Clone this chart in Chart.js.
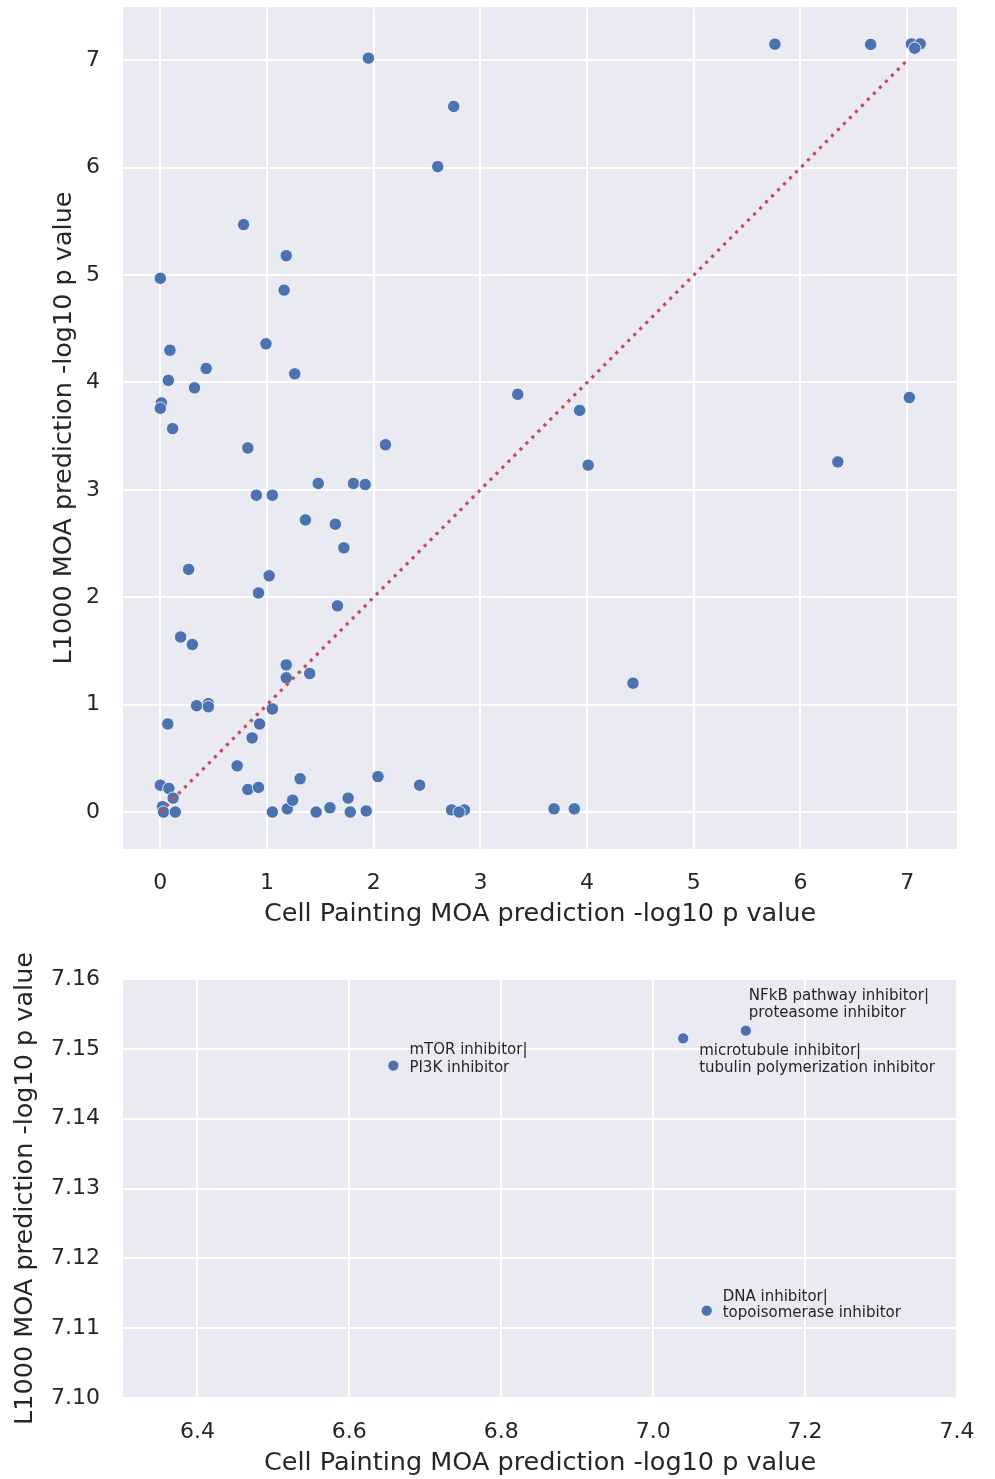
<!DOCTYPE html>
<html>
<head>
<meta charset="utf-8">
<script src="https://cdn.jsdelivr.net/npm/chart.js@4.4.8/dist/chart.umd.min.js"></script>
<style>
  html, body { margin: 0; padding: 0; background: #fff; }
  canvas { position: absolute; left: 0; }
</style>
</head>
<body>
<canvas id="allMoa" width="995" height="930" style="top:0;width:995px;height:930px"></canvas>
<canvas id="zoomMoa" width="995" height="549" style="top:930px;width:995px;height:549px"></canvas>
<script>
// top panel: one point per MOA, Cell Painting vs L1000 -log10 p value
const cellPaintingP = [5.76, 6.658, 7.0395, 7.122, 7.0705, 1.95, 2.75, 2.60, 0.78, 1.18,
  0.00, 1.16, 0.99, 0.09, 0.43, 1.26, 0.075, 0.32, 0.01, 0.00,
  0.115, 3.35, 3.93, 7.02, 0.82, 2.11, 4.01, 6.35, 1.48, 1.81,
  1.92, 0.90, 1.05, 1.36, 1.64, 1.72, 0.265, 1.02, 0.92, 1.66,
  0.19, 0.30, 1.18, 1.40, 1.18, 4.43, 0.34, 0.45, 0.45, 1.05,
  0.07, 0.93, 0.86, 0.72, 0.82, 0.92, 0.00, 0.08, 0.12, 0.02,
  0.03, 0.14, 1.05, 1.19, 1.24, 1.31, 1.46, 1.59, 1.76, 1.78,
  1.93, 2.04, 2.43, 2.73, 2.85, 2.80, 3.69, 3.88];
const l1000P = [7.15, 7.1476, 7.1515, 7.1526, 7.1125, 7.02, 6.57, 6.01, 5.47, 5.18,
  4.97, 4.86, 4.36, 4.30, 4.13, 4.08, 4.02, 3.95, 3.81, 3.76,
  3.57, 3.89, 3.74, 3.86, 3.39, 3.42, 3.23, 3.26, 3.06, 3.06,
  3.05, 2.95, 2.95, 2.72, 2.68, 2.46, 2.26, 2.20, 2.04, 1.92,
  1.63, 1.56, 1.37, 1.29, 1.25, 1.20, 0.99, 1.01, 0.98, 0.96,
  0.82, 0.82, 0.69, 0.43, 0.21, 0.23, 0.25, 0.22, 0.13, 0.05,
  0.00, 0.00, 0.00, 0.03, 0.11, 0.31, 0.00, 0.04, 0.13, 0.00,
  0.01, 0.33, 0.25, 0.02, 0.02, 0.00, 0.03, 0.03];
// y = x reference line
const diagX = [0, 7];
const diagY = [0, 7];
const allTicks = [0, 1, 2, 3, 4, 5, 6, 7];

// bottom panel: zoom on the top right corner
const zoomX = [6.658, 7.0395, 7.122, 7.0705];
const zoomY = [7.1476, 7.1515, 7.1526, 7.1125];
const zoomMoa = [
  ['mTOR inhibitor|', 'PI3K inhibitor'],
  ['microtubule inhibitor|', 'tubulin polymerization inhibitor'],
  ['NFkB pathway inhibitor|', 'proteasome inhibitor'],
  ['DNA inhibitor|', 'topoisomerase inhibitor']
];
const zoomXTicks = [6.4, 6.6, 6.8, 7.0, 7.2, 7.4];
const zoomYTicks = [7.10, 7.11, 7.12, 7.13, 7.14, 7.15, 7.16];

// where each label sits relative to its point (px): [dx, dy line1, dy line2]
const labelOffsets = [[16, -15, 3], [16, 13, 30], [3, -35, -18], [16, -14, 2]];

Chart.defaults.font.family = '"DejaVu Sans", sans-serif';
Chart.defaults.color = '#262626';

const INK = '#262626';
const BLUE = '#4c72b0';

//seaborn darkgrid background
const darkgrid = {
  id: 'darkgrid',
  beforeDraw(chart) {
    const a = chart.chartArea;
    const c = chart.ctx;
    c.save();
    c.fillStyle = '#eaeaf2';
    c.fillRect(a.left, a.top, a.right - a.left, a.bottom - a.top);
    c.restore();
  }
};

const moaLabels = {
  id: 'moaLabels',
  afterDatasetsDraw(chart) {
    const c = chart.ctx;
    const sx = chart.scales.x, sy = chart.scales.y;
    c.save();
    c.font = '15px "DejaVu Sans"';
    c.fillStyle = INK;
    c.textAlign = 'left';
    c.textBaseline = 'middle';
    zoomMoa.forEach((lines, i) => {
      const px = sx.getPixelForValue(zoomX[i]);
      const py = sy.getPixelForValue(zoomY[i]);
      const off = labelOffsets[i];
      c.fillText(lines[0], px + off[0], py + off[1]);
      c.fillText(lines[1], px + off[0], py + off[2]);
    });
    c.restore();
  }
};

function toPoints(xs, ys) {
  return xs.map((x, i) => ({ x: x, y: ys[i] }));
}

function axis(opts) {
  return {
    type: 'linear',
    min: opts.min,
    max: opts.max,
    afterBuildTicks: s => { s.ticks = opts.ticks.map(v => ({ value: v })); },
    afterFit: s => {
      if (opts.horizontal) s.height = opts.size; else s.width = opts.size;
      s.paddingTop = s.paddingBottom = s.paddingLeft = s.paddingRight = 0;
    },
    border: { display: false },
    grid: { color: '#ffffff', lineWidth: 2, drawTicks: false },
    ticks: {
      padding: opts.pad,
      color: INK,
      font: { size: 22 },
      maxRotation: 0,
      autoSkip: false,
      callback: v => v.toFixed(opts.digits)
    },
    title: {
      display: true,
      text: opts.title,
      color: INK,
      font: { size: 25.5 },
      padding: opts.titlePad
    }
  };
}

const xTitle = 'Cell Painting MOA prediction -log10 p value';
const yTitle = 'L1000 MOA prediction -log10 p value';

new Chart(document.getElementById('allMoa'), {
  type: 'scatter',
  data: {
    datasets: [
      {
        type: 'line',
        data: toPoints(diagX, diagY),
        borderColor: '#c44e52',
        borderWidth: 3.2,
        borderDash: [3.2, 5.3],
        pointRadius: 0,
        fill: false,
        order: 0
      },
      {
        data: toPoints(cellPaintingP, l1000P),
        backgroundColor: BLUE,
        borderColor: '#ffffff',
        borderWidth: 0.8,
        pointRadius: 6.2,
        pointHoverRadius: 6.2,
        order: 1
      }
    ]
  },
  options: {
    responsive: false,
    animation: false,
    devicePixelRatio: 1,
    layout: { padding: { left: 0, right: 38, top: 6, bottom: 0 } },
    plugins: { legend: { display: false }, tooltip: { enabled: false } },
    scales: {
      x: axis({ horizontal: true, min: -0.35, max: 7.467, ticks: allTicks, digits: 0, size: 81, pad: 21,
                title: xTitle, titlePad: { top: 0, bottom: 0 } }),
      y: axis({ min: -0.344, max: 7.496, ticks: allTicks, digits: 0, size: 123, pad: 23,
                title: yTitle, titlePad: { top: 48.8, bottom: 0 } })
    }
  },
  plugins: [darkgrid]
});

new Chart(document.getElementById('zoomMoa'), {
  type: 'scatter',
  data: {
    datasets: [{
      data: toPoints(zoomX, zoomY),
      backgroundColor: BLUE,
      borderColor: '#ffffff',
      borderWidth: 0.8,
      pointRadius: 5.6,
      pointHoverRadius: 5.6
    }]
  },
  options: {
    responsive: false,
    animation: false,
    devicePixelRatio: 1,
    layout: { padding: { left: 0, right: 38, top: 49, bottom: 0 } },
    plugins: { legend: { display: false }, tooltip: { enabled: false } },
    scales: {
      x: axis({ horizontal: true, min: 6.302, max: 7.4, ticks: zoomXTicks, digits: 1, size: 81, pad: 21,
                title: xTitle, titlePad: { top: 0, bottom: 0 } }),
      y: axis({ min: 7.10, max: 7.16, ticks: zoomYTicks, digits: 2, size: 123, pad: 23,
                title: yTitle, titlePad: { top: 10.4, bottom: 0 } })
    }
  },
  plugins: [darkgrid, moaLabels]
});
</script>
</body>
</html>
